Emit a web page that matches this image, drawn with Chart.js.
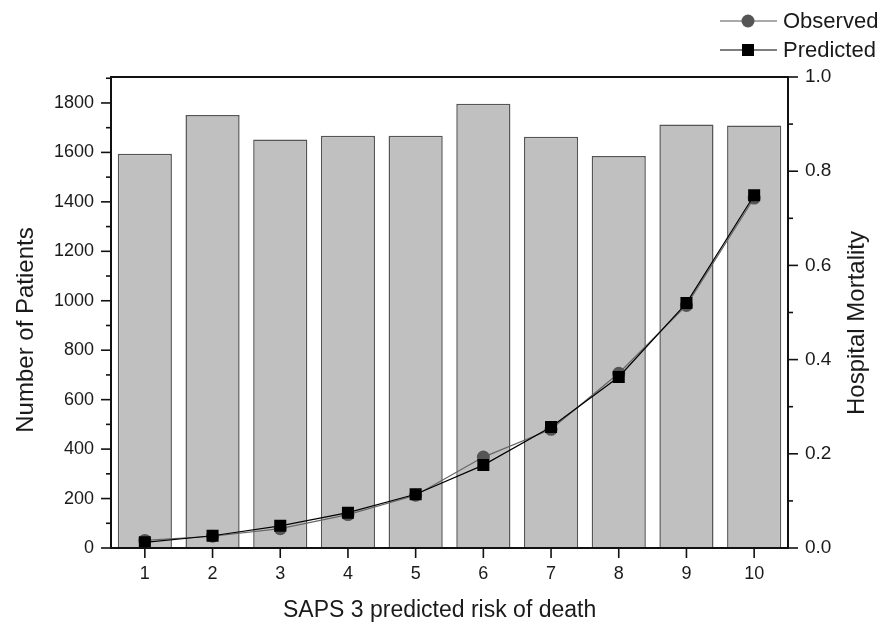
<!DOCTYPE html>
<html lang="en">
<head>
    <meta charset="UTF-8">
    <title>SAPS 3 predicted risk of death</title>
    <script src="https://cdn.jsdelivr.net/npm/chart.js"></script>
    <style>
        body { margin: 0; background: #fff; }
        .chart-box { width: 891px; height: 623px; position: relative; }
    </style>
</head>
<body>
    <div class="chart-box"><canvas id="sapsChart"></canvas></div>

    <script>
        // deciles of SAPS 3 predicted risk
        const riskDeciles = ['1', '2', '3', '4', '5', '6', '7', '8', '9', '10'];
        const patientCounts = [1595, 1751, 1652, 1667, 1667, 1797, 1663, 1585, 1713, 1709];
        const observedMortality = [0.016, 0.025, 0.041, 0.071, 0.112, 0.193, 0.252, 0.371, 0.515, 0.743];
        const predictedMortality = [0.012, 0.026, 0.047, 0.075, 0.114, 0.176, 0.257, 0.363, 0.520, 0.749];
        const patientTicks = [0, 200, 400, 600, 800, 1000, 1200, 1400, 1600, 1800];
        const mortalityTicks = [0.0, 0.2, 0.4, 0.6, 0.8, 1.0];

        const FONT = '"Liberation Sans", Arial, sans-serif';

        // frame, major/minor tick marks, axis titles and legend
        const decorations = {
            id: 'decorations',
            afterDraw(chart) {
                const { ctx, chartArea: a, scales } = chart;
                ctx.save();
                ctx.strokeStyle = '#111';
                ctx.lineWidth = 1.6;
                const seg = (x1, y1, x2, y2) => {
                    ctx.beginPath(); ctx.moveTo(x1, y1); ctx.lineTo(x2, y2); ctx.stroke();
                };
                patientTicks.forEach(v => {
                    const y = scales.y.getPixelForValue(v);
                    seg(a.left - 10, y, a.left, y);
                    const ym = scales.y.getPixelForValue(v + 100);
                    if (ym > a.top) seg(a.left - 5, ym, a.left, ym);
                });
                mortalityTicks.forEach(v => {
                    const y = scales.y1.getPixelForValue(v);
                    seg(a.right, y, a.right + 10, y);
                    if (v < 1) {
                        const ym = scales.y1.getPixelForValue(v + 0.1);
                        seg(a.right, ym, a.right + 5, ym);
                    }
                });
                riskDeciles.forEach((d, i) => {
                    const x = scales.x.getPixelForValue(i);
                    seg(x, a.bottom, x, a.bottom + 10);
                });
                ctx.lineWidth = 2;
                ctx.strokeRect(a.left, a.top, a.right - a.left, a.bottom - a.top);

                ctx.fillStyle = '#1a1a1a';
                ctx.font = '24px ' + FONT;
                ctx.textAlign = 'center';
                ctx.textBaseline = 'middle';
                ctx.save();
                ctx.translate(26, 330);
                ctx.rotate(-Math.PI / 2);
                ctx.fillText('Number of Patients', 0, 0);
                ctx.restore();
                ctx.save();
                ctx.translate(857, 323);
                ctx.rotate(-Math.PI / 2);
                ctx.fillText('Hospital Mortality', 0, 0);
                ctx.restore();
                ctx.font = '23px ' + FONT;
                ctx.textAlign = 'left';
                ctx.textBaseline = 'alphabetic';
                ctx.fillText('SAPS 3 predicted risk of death', 283, 617);

                // legend
                ctx.lineWidth = 1.2;
                ctx.strokeStyle = '#555';
                seg(720, 21, 777, 21);
                ctx.fillStyle = '#555';
                ctx.beginPath(); ctx.arc(748, 21, 6.5, 0, Math.PI * 2); ctx.fill();
                ctx.strokeStyle = '#000';
                seg(720, 50, 777, 50);
                ctx.fillStyle = '#000';
                ctx.fillRect(742, 44, 12, 12);
                ctx.font = '22px ' + FONT;
                ctx.fillStyle = '#1a1a1a';
                ctx.textBaseline = 'middle';
                ctx.fillText('Observed', 783, 22);
                ctx.fillText('Predicted', 783, 51);
                ctx.restore();
            }
        };

        new Chart(document.getElementById('sapsChart'), {
            type: 'bar',
            data: {
                labels: riskDeciles,
                datasets: [
                    {
                        type: 'line',
                        label: 'Predicted',
                        data: predictedMortality,
                        yAxisID: 'y1',
                        order: 1,
                        borderColor: '#000',
                        borderWidth: 1.2,
                        backgroundColor: '#000',
                        pointStyle: 'rect',
                        pointRadius: 8.5,
                        pointBorderWidth: 0,
                        tension: 0
                    },
                    {
                        type: 'line',
                        label: 'Observed',
                        data: observedMortality,
                        yAxisID: 'y1',
                        order: 2,
                        borderColor: '#666',
                        borderWidth: 1.2,
                        backgroundColor: '#555',
                        pointStyle: 'circle',
                        pointRadius: 6.5,
                        pointBorderWidth: 0,
                        tension: 0
                    },
                    {
                        label: 'Number of Patients',
                        data: patientCounts,
                        yAxisID: 'y',
                        order: 3,
                        backgroundColor: '#c0c0c0',
                        borderColor: '#555',
                        borderWidth: 1.5,
                        categoryPercentage: 1.0,
                        barPercentage: 0.8
                    }
                ]
            },
            options: {
                responsive: true,
                maintainAspectRatio: false,
                animation: false,
                layout: { padding: { top: 77, left: 0, right: 0, bottom: 0 } },
                plugins: {
                    legend: { display: false },
                    tooltip: { enabled: false }
                },
                scales: {
                    x: {
                        offset: true,
                        grid: { display: true, drawOnChartArea: false, color: 'rgba(0,0,0,0)', tickLength: 10 },
                        border: { display: false },
                        ticks: { color: '#1a1a1a', font: { family: FONT, size: 18 }, padding: 5, maxRotation: 0 },
                        afterFit: s => { s.height = 75; }
                    },
                    y: {
                        position: 'left',
                        min: 0,
                        max: 1905,
                        afterBuildTicks: s => { s.ticks = patientTicks.map(v => ({ value: v })); },
                        grid: { display: true, drawOnChartArea: false, color: 'rgba(0,0,0,0)', tickLength: 10 },
                        border: { display: false },
                        ticks: {
                            color: '#1a1a1a',
                            font: { family: FONT, size: 18 },
                            padding: 7,
                            callback: v => String(v)
                        },
                        afterFit: s => { s.width = 111; }
                    },
                    y1: {
                        position: 'right',
                        min: 0,
                        max: 1.0,
                        afterBuildTicks: s => { s.ticks = mortalityTicks.map(v => ({ value: v })); },
                        grid: { display: true, drawOnChartArea: false, color: 'rgba(0,0,0,0)', tickLength: 10 },
                        border: { display: false },
                        ticks: {
                            color: '#1a1a1a',
                            font: { family: FONT, size: 19 },
                            padding: 7,
                            callback: v => Number(v).toFixed(1)
                        },
                        afterFit: s => { s.width = 103; }
                    }
                }
            },
            plugins: [decorations]
        });
    </script>
</body>
</html>
